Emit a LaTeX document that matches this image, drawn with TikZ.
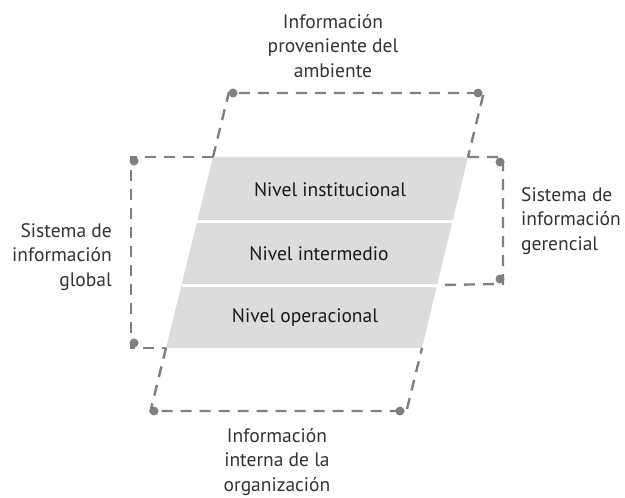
\documentclass[tikz,border=0pt]{standalone}
\usepackage{fontspec}
\setmainfont{PT Sans}
\usetikzlibrary{calc}
\definecolor{bandgray}{HTML}{DCDCDC}
\definecolor{frame}{HTML}{7F7F7F}
\definecolor{labelc}{HTML}{333333}
\tikzset{
  frameline/.style={draw=frame, line width=2.4pt, dash pattern=on 11pt off 8pt},
  dotmark/.style={circle, fill=frame, inner sep=0pt, minimum size=9pt},
  bandtext/.style={font=\fontsize{19.5}{24}\selectfont, text=black!90},
  outer/.style={font=\fontsize{19.5}{24.5}\selectfont, text=labelc, align=center, inner sep=0pt},
}
\begin{document}
\begin{tikzpicture}[x=1pt,y=-1pt]
\useasboundingbox (0,0) rectangle (625,498);
% grey corner coordinates
\coordinate (g0l) at (213,157);   \coordinate (g0r) at (468,157);
\coordinate (g1l) at (197.3,221); \coordinate (g1r) at (452.6,221);
\coordinate (g2l) at (181.5,285); \coordinate (g2r) at (437.2,285);
\coordinate (g3l) at (166,348);   \coordinate (g3r) at (422,348);
% bands
\fill[bandgray] (g0l) -- (g0r) -- (g3r) -- (g3l) -- cycle;
\draw[white, line width=3pt] (g1l) -- (g1r);
\draw[white, line width=3pt] (g2l) -- (g2r);
\node[bandtext] (inst) at (330,190) {Nivel institucional};
\node[bandtext] (inter) at (319,254) {Nivel intermedio};
\node[bandtext] (oper) at (305,318) {Nivel operacional};
% frame corners
\coordinate (t1) at (228.7,93); \coordinate (t2) at (483.7,93);
\coordinate (b1) at (150.5,411); \coordinate (b2) at (406.5,411);
\coordinate (l1) at (131,157); \coordinate (l2) at (131,348);
\coordinate (r1) at (503,157); \coordinate (r2) at (503,284);
% frames
\draw[frameline] (g0l) -- (t1) -- (t2) -- (g0r);
\draw[frameline] (g3l) -- (b1) -- (b2) -- (g3r);
\draw[frameline] (g0l) -- (l1) -- (l2) -- (g3l);
\draw[frameline] (g0r) -- (r1) -- (r2) -- (g2r);
% dots
\node[dotmark] (dt1) at (233,93) {};
\node[dotmark] (dt2) at (478,93) {};
\node[dotmark] (db1) at (154,411) {};
\node[dotmark] (db2) at (400,411) {};
\node[dotmark] (dl1) at (134,161) {};
\node[dotmark] (dl2) at (134,343) {};
\node[dotmark] (dr1) at (500,162) {};
\node[dotmark] (dr2) at (500,279) {};
% labels
\node[outer, anchor=center] (top) at (333,46) {Información\\proveniente del\\ambiente};
\node[outer, anchor=center] (bot) at (277,462) {Información\\interna de la\\organización};
\node[outer, align=right, anchor=east] (left) at (112,257) {Sistema de\\información\\global};
\node[outer, align=left, anchor=west] (right) at (521,221) {Sistema de\\información\\gerencial};
\end{tikzpicture}
\end{document}
